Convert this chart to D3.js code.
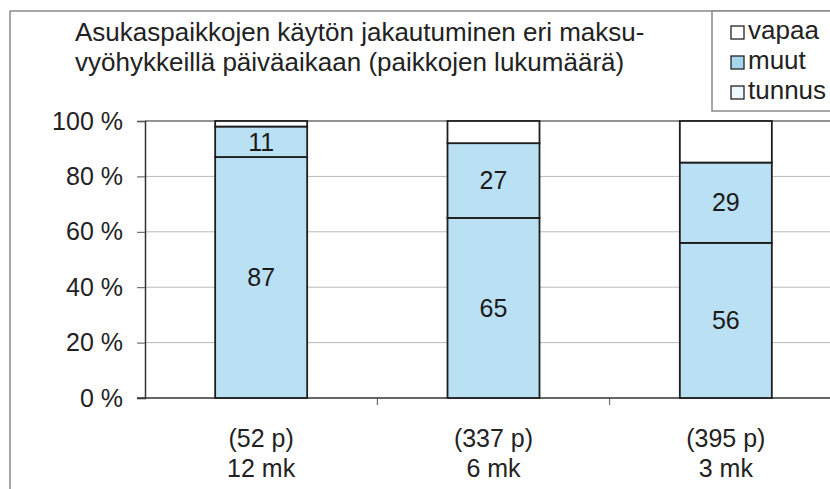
<!DOCTYPE html>
<html>
<head>
<meta charset="utf-8">
<script src="https://cdn.jsdelivr.net/npm/d3@7"></script>
<style>
  body { margin: 0; background: #fff; }
  svg { display: block; font-family: "Liberation Sans", Arial, sans-serif; }
</style>
</head>
<body>
<div id="chart"></div>
<script>
// chart data (percent of places)
const categories = ["12 mk", "6 mk", "3 mk"];
const placeCounts = ["(52 p)", "(337 p)", "(395 p)"];
const tunnus = [87, 65, 56];
const muut = [11, 27, 29];
const vapaa = [2, 8, 15];
const seriesNames = ["tunnus", "muut", "vapaa"];
const legendOrder = ["vapaa", "muut", "tunnus"];
const yTicks = [0, 20, 40, 60, 80, 100];
const titleLines = [
    "Asukaspaikkojen käytön jakautuminen eri maksu-",
    "vyöhykkeillä päiväaikaan (paikkojen lukumäärä)"
];

const width = 830, height = 489;
const plot = {left: 145, right: 842, top: 121, bottom: 398};

const svg = d3.select("#chart").append("svg")
    .attr("width", width)
    .attr("height", height);

// rows for the stack
const rows = categories.map((c, i) => ({
    cat: c, tunnus: tunnus[i], muut: muut[i], vapaa: vapaa[i]
}));
const stacked = d3.stack().keys(seriesNames)(rows);

const fill = d3.scaleOrdinal()
    .domain(seriesNames)
    .range(["#bae0f4", "#bae0f4", "#ffffff"]);
// legend swatches look a bit different in the print
const legendFill = d3.scaleOrdinal()
    .domain(legendOrder)
    .range(["#ffffff", "#a6d6ee", "#eef7fb"]);

const x = d3.scaleBand()
    .domain(categories)
    .range([plot.left, plot.right])
    .padding(0);
const barW = x.bandwidth() * 0.396;

const y = d3.scaleLinear()
    .domain([0, 100])
    .range([plot.bottom, plot.top]);

// outer frame
svg.append("path")
    .attr("d", `M10,${height} V11 H${width}`)
    .attr("fill", "none")
    .attr("stroke", "#8a8a8a")
    .attr("stroke-width", 1.5);

// gridlines
svg.append("g")
    .selectAll("line")
    .data(yTicks.filter(d => d > 0))
    .enter()
    .append("line")
    .attr("x1", plot.left)
    .attr("x2", width)
    .attr("y1", d => y(d))
    .attr("y2", d => y(d))
    .attr("stroke", d => d === 100 ? "#6f6f6f" : "#b8b8b8")
    .attr("stroke-width", d => d === 100 ? 1.5 : 1);

// y axis
const yAxis = svg.append("g")
    .attr("transform", `translate(${plot.left},0)`)
    .call(d3.axisLeft(y).tickValues(yTicks).tickSize(8).tickPadding(14)
        .tickFormat(d => d + " %"));
yAxis.select(".domain").attr("stroke", "#333").attr("stroke-width", 1.5);
yAxis.selectAll(".tick line").attr("stroke", "#555");
yAxis.selectAll("text")
    .attr("font-size", 25)
    .attr("fill", "#222");

// x axis: ticks on category boundaries like the original
const xAxisG = svg.append("g")
    .attr("transform", `translate(0,${plot.bottom})`);
xAxisG.append("line")
    .attr("x1", plot.left - 8)
    .attr("x2", width)
    .attr("stroke", "#333")
    .attr("stroke-width", 1.5);
xAxisG.selectAll(".bound")
    .data(categories.slice(1))
    .enter()
    .append("line")
    .attr("class", "bound")
    .attr("x1", d => x(d))
    .attr("x2", d => x(d))
    .attr("y1", 0)
    .attr("y2", 7)
    .attr("stroke", "#555");

// category labels, two lines
const catLabel = svg.append("g")
    .selectAll("text")
    .data(categories)
    .enter()
    .append("text")
    .attr("text-anchor", "middle")
    .attr("font-size", 25)
    .attr("fill", "#222");
catLabel.append("tspan")
    .attr("x", d => x(d) + x.bandwidth() / 2)
    .attr("y", 447)
    .text((d, i) => placeCounts[i]);
catLabel.append("tspan")
    .attr("x", d => x(d) + x.bandwidth() / 2)
    .attr("y", 477)
    .text(d => d);

// bars
const layers = svg.append("g")
    .selectAll("g")
    .data(stacked)
    .enter()
    .append("g")
    .attr("fill", d => fill(d.key));

layers.selectAll("rect")
    .data(d => d)
    .enter()
    .append("rect")
    .attr("x", d => x(d.data.cat) + (x.bandwidth() - barW) / 2)
    .attr("y", d => y(d[1]))
    .attr("width", barW)
    .attr("height", d => y(d[0]) - y(d[1]))
    .attr("stroke", "#1e1e1e")
    .attr("stroke-width", 1.8);

// value labels on the blue parts
layers.filter(d => d.key !== "vapaa")
    .selectAll("text")
    .data(d => d.map(v => ({v: v, key: d.key})))
    .enter()
    .append("text")
    .attr("x", d => x(d.v.data.cat) + x.bandwidth() / 2)
    .attr("y", d => y((d.v[0] + d.v[1]) / 2))
    .attr("dy", "0.35em")
    .attr("text-anchor", "middle")
    .attr("font-size", 25)
    .attr("fill", "#1a1a1a")
    .text(d => d.v.data[d.key]);

// title
svg.append("g")
    .selectAll("text")
    .data(titleLines)
    .enter()
    .append("text")
    .attr("x", 75)
    .attr("y", (d, i) => 41 + i * 30)
    .attr("font-size", 26)
    .attr("fill", "#222")
    .text(d => d);

// legend
const legend = svg.append("g");
legend.append("rect")
    .attr("x", 712)
    .attr("y", 11)
    .attr("width", 140)
    .attr("height", 100)
    .attr("fill", "#fff")
    .attr("stroke", "#8a8a8a")
    .attr("stroke-width", 1.5);

const item = legend.selectAll(".item")
    .data(legendOrder)
    .enter()
    .append("g")
    .attr("class", "item")
    .attr("transform", (d, i) => `translate(731,${39 + i * 30})`);
item.append("rect")
    .attr("x", 0)
    .attr("y", -13)
    .attr("width", 13)
    .attr("height", 13)
    .attr("fill", d => legendFill(d))
    .attr("stroke", "#222")
    .attr("stroke-width", 1.3);
item.append("text")
    .attr("x", 17)
    .attr("y", 0)
    .attr("font-size", 26)
    .attr("fill", "#222")
    .text(d => d);
</script>
</body>
</html>
